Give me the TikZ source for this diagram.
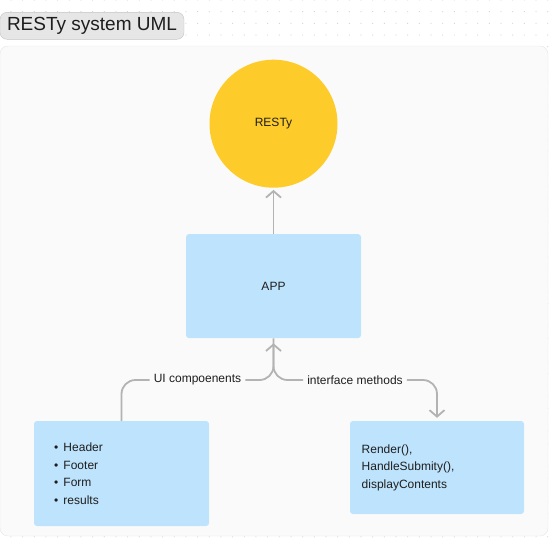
\documentclass[tikz,border=0pt]{standalone}
\usepackage{fontspec}
\setmainfont{Liberation Sans}
\usetikzlibrary{arrows.meta, positioning}
\definecolor{boxblue}{HTML}{BEE3FC}
\definecolor{sunyellow}{HTML}{FECC2A}
\definecolor{linkgray}{HTML}{B3B3B3}
\definecolor{inkgray}{HTML}{1E1E1E}
\definecolor{framefill}{HTML}{FAFAFA}
\definecolor{frameline}{HTML}{E6E6E6}
\definecolor{pillfill}{HTML}{E6E6E6}
\definecolor{pillline}{HTML}{C4C4C4}
\definecolor{dotgray}{HTML}{D2D2D2}
\tikzstyle{card} = [rectangle, fill=boxblue, rounded corners=3pt, minimum width=175pt,
   minimum height=104pt, inner sep=0pt, text=inkgray,
   font=\fontsize{12}{17.5}\selectfont]
\tikzstyle{link} = [draw=linkgray, line width=1.8pt, rounded corners=14pt]
\tikzstyle{tip} = [-{Straight Barb[length=6.5pt,width=15pt]}]
\tikzstyle{linklabel} = [inner xsep=4pt, inner ysep=2pt, text=inkgray,
   font=\fontsize{12}{14}\selectfont]

\begin{document}
\begin{tikzpicture}[x=1pt, y=-1pt]
	\useasboundingbox (0,0) rectangle (557,544);
	% dotted canvas
	\foreach \i in {0,...,47}
		\foreach \j in {0,...,46}
			\fill[dotgray] (10.9+11.67*\i, 11.67*\j) circle (0.6pt);
	\draw[frameline, fill=framefill, rounded corners=8pt] (0,46) rectangle (548,536);
	\node[rectangle, draw=pillline, fill=pillfill, rounded corners=7pt, minimum width=184pt,
		minimum height=27pt, inner sep=0pt, text=inkgray, font=\fontsize{19}{21}\selectfont]
		(title) at (92,25.8) {RESTy system UML};

	\node[circle, fill=sunyellow, minimum size=128pt, inner sep=0pt, text=inkgray,
		font=\fontsize{12}{14}\selectfont] (resty) at (273.5,123.7) {RESTy};
	\node[card, below=46pt of resty] (app) {APP};
	\node[card, minimum height=105pt, text width=135pt, inner xsep=20pt, align=left]
		(uibox) at (121.5,473.5)
		{\makebox[9.5pt][l]{\textbullet}Header\\ \makebox[9.5pt][l]{\textbullet}Footer\\
		 \makebox[9.5pt][l]{\textbullet}Form\\ \makebox[9.5pt][l]{\textbullet}results};
	\node[card, minimum height=93pt, minimum width=174pt, text width=150.6pt, inner xsep=11.7pt,
		align=left] (ifbox) at (437,467.5)
		{Render(),\\ HandleSubmity(),\\ displayContents};

	\node[linklabel] (uilab) at (197.5,380) {UI compoenents};
	\node[linklabel] (iflab) at (355,380) {interface methods};

	% connectors
	\draw[link, tip, shorten >=2pt] (app) -- (resty);
	\draw[link] (uibox.north) |- (uilab.west);
	\draw[link, tip, shorten >=5pt] (uilab.east) -| (app.south);
	\draw[link] (app.south) |- (iflab.west);
	\draw[link, tip, shorten >=3pt] (iflab.east) -| (ifbox.north);
\end{tikzpicture}
\end{document}
